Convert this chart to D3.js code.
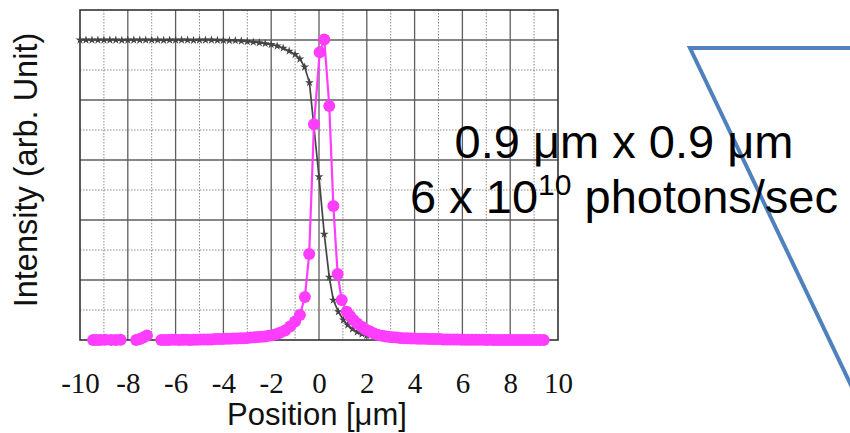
<!DOCTYPE html>
<html>
<head>
<meta charset="utf-8">
<script src="https://cdn.jsdelivr.net/npm/d3@7/dist/d3.min.js"></script>
<style>
  html, body { margin: 0; padding: 0; background: #fff; }
  svg { display: block; }
</style>
</head>
<body>
<svg id="chart" width="850" height="433"></svg>
<script>
// ---------- data ----------
const xTicks = [-10, -8, -6, -4, -2, 0, 2, 4, 6, 8, 10];
const xTickLabels = ["-10", "-8", "-6", "-4", "-2", "0", "2", "4", "6", "8", "10"];

// knife-edge (black) scan
const edgeX = [-10, -9.75, -9.5, -9.25, -9, -8.75, -8.5, -8.25, -8, -7.75, -7.5, -7.25, -7, -6.75, -6.5, -6.25,
  -6, -5.75, -5.5, -5.25, -5, -4.75, -4.5, -4.25, -4, -3.75, -3.5, -3.25, -3, -2.75, -2.5, -2.25, -2, -1.75,
  -1.5, -1.25, -1, -0.8, -0.6, -0.4, 0, 0.22, 0.43, 0.6, 0.81, 1.02, 1.2, 1.4, 1.6, 1.8, 2.0, 2.5, 3, 4, 5, 6, 7, 8, 9, 9.4];
const edgeY = [1.0, 1.0, 1.0, 1.0, 1.0, 1.0, 1.0, 0.999, 1.0, 1.0, 1.0, 1.0, 1.0, 1.0, 0.999, 1.0,
  1.0, 1.0, 1.0, 0.999, 1.0, 1.0, 1.0, 0.999, 0.999, 0.998, 0.998, 0.997, 0.995, 0.993, 0.991, 0.988, 0.985, 0.98,
  0.973, 0.963, 0.952, 0.937, 0.91, 0.858, 0.544, 0.353, 0.209, 0.133, 0.094, 0.067, 0.05, 0.037, 0.027, 0.02, 0.015, 0.01, 0.007, 0.004, 0.003, 0.002, 0.002, 0.001, 0.001, 0.001];

// beam profile (magenta), null = gap in scan
const beamX = [-9.45, -9.3, -9.15, -8.95, -8.7, -8.5, -8.3, null, -7.65, -7.5, -7.35, -7.2, null,
  -6.6, -6.45, -6.3, -6.15, -6.0, -5.85, -5.7, -5.55, -5.4, -5.25, -5.1, -4.95, -4.8, -4.65, -4.5, -4.35, -4.2,
  -4.05, -3.9, -3.75, -3.6, -3.45, -3.3, -3.15, -3.0, -2.85, -2.7, -2.55, -2.4, -2.25, -2.1, -1.95, -1.8, -1.63,
  -1.42, -1.21, -1.0, -0.8, -0.59, -0.41, -0.21, 0.03, 0.22,
  0.43, 0.6, 0.78, 0.95, 1.16, 1.3, 1.44, 1.6, 1.79, 1.95, 2.13, 2.3, 2.48, 2.65, 2.8, 2.95, 3.1, 3.25, 3.4, 3.55,
  3.7, 3.85, 4.0, 4.15, 4.3, 4.45, 4.6, 4.75, 4.9, 5.05, 5.2, 5.35, 5.5, 5.65, 5.8, 5.95, 6.1, 6.25, 6.4, 6.55,
  6.7, 6.85, 7.0, 7.15, 7.3, 7.45, 7.6, 7.75, 7.9, 8.05, 8.2, 8.35, 8.5, 8.65, 8.8, 8.95, 9.1, 9.25, 9.4];
const beamY = [0.0, 0.0, 0.0, 0.001, 0.0, 0.0, 0.001, null, 0.0, 0.003, 0.008, 0.015, null,
  0.0, 0.0, 0.0, 0.001, 0.001, 0.0, 0.001, 0.001, 0.0, 0.001, 0.001, 0.002, 0.002, 0.002, 0.002, 0.003, 0.003,
  0.003, 0.004, 0.004, 0.005, 0.005, 0.006, 0.006, 0.007, 0.008, 0.009, 0.01, 0.011, 0.012, 0.014, 0.016, 0.019, 0.024,
  0.032, 0.045, 0.062, 0.083, 0.143, 0.287, 0.719, 0.959, 1.002,
  0.78, 0.447, 0.22, 0.133, 0.094, 0.08, 0.067, 0.055, 0.044, 0.035, 0.028, 0.022, 0.017, 0.014, 0.012, 0.01, 0.009, 0.008, 0.007, 0.006,
  0.006, 0.005, 0.005, 0.004, 0.004, 0.004, 0.003, 0.003, 0.003, 0.003, 0.002, 0.002, 0.002, 0.002, 0.002, 0.001, 0.001, 0.001, 0.001, 0.001,
  0.001, 0.001, 0.0, 0.001, 0.0, 0.0, 0.0, 0.0, 0.0, 0.0, 0.0, 0.0, 0.0, 0.0, 0.0, 0.0, 0.0, 0.0, 0.0];

const gridXValues = [-9, -8, -7, -6, -5, -4, -3, -2, -1, 0, 1, 2, 3, 4, 5, 6, 7, 8, 9];
const gridYValues = [0.1, 0.2, 0.3, 0.4, 0.5, 0.6, 0.7, 0.8, 0.9, 1.0];
const majorYValues = [0.2, 0.4, 0.6, 0.8, 1.0];

// ---------- layout ----------
const svg = d3.select("#chart");
const plot = { left: 80, right: 558, top: 10, bottom: 340 };
const x = d3.scaleLinear().domain([-10, 10]).range([plot.left, plot.right]);
const y = d3.scaleLinear().domain([0, 1.1]).range([plot.bottom, plot.top]);

svg.append("rect").attr("width", 850).attr("height", 433).attr("fill", "#fff");

const isMajorY = d => majorYValues.some(m => Math.abs(m - d) < 1e-9);

// grid
const grid = svg.append("g");
grid.selectAll("line.gx").data(gridXValues).enter().append("line")
  .attr("x1", d => x(d)).attr("x2", d => x(d))
  .attr("y1", plot.top).attr("y2", plot.bottom)
  .attr("stroke", d => (d % 2 === 0) ? "#5e5e5e" : "#8a8a8a")
  .attr("stroke-width", d => (d % 2 === 0) ? 1.3 : 1)
  .attr("stroke-dasharray", d => (d % 2 === 0) ? null : "1.5,1.5");
grid.selectAll("line.gy").data(gridYValues).enter().append("line")
  .attr("x1", plot.left).attr("x2", plot.right)
  .attr("y1", d => y(d)).attr("y2", d => y(d))
  .attr("stroke", d => isMajorY(d) ? "#5e5e5e" : "#8a8a8a")
  .attr("stroke-width", d => isMajorY(d) ? 1.3 : 1)
  .attr("stroke-dasharray", d => isMajorY(d) ? null : "1.5,1.5");

// frame
svg.append("rect")
  .attr("x", plot.left).attr("y", plot.top)
  .attr("width", plot.right - plot.left).attr("height", plot.bottom - plot.top)
  .attr("fill", "none").attr("stroke", "#333").attr("stroke-width", 1.6);

// x axis labels
const xAxis = d3.axisBottom(x).tickValues(xTicks)
  .tickFormat((d, i) => xTickLabels[i]).tickSize(0).tickPadding(0);
const gx = svg.append("g").attr("transform", `translate(0,${plot.bottom})`).call(xAxis);
gx.select(".domain").remove();
gx.attr("font-size", null).attr("font-family", null);
gx.selectAll("text")
  .attr("y", 53).attr("dy", null)
  .style("font-family", "'Liberation Serif', 'Times New Roman', serif")
  .style("font-size", "29px").attr("fill", "#111");

// black edge scan
const edgeData = edgeX.map((v, i) => ({ x: v, y: edgeY[i] }));
svg.append("path").datum(edgeData)
  .attr("fill", "none").attr("stroke", "#444").attr("stroke-width", 1.7)
  .attr("d", d3.line().x(d => x(d.x)).y(d => y(d.y)));
svg.selectAll("path.em").data(edgeData).enter().append("path")
  .attr("transform", d => `translate(${x(d.x)},${y(d.y)})`)
  .attr("d", d3.symbol().type(d3.symbolStar).size(24))
  .attr("fill", "#444");

// magenta beam profile
const beamData = beamX.map((v, i) => ({ x: v, y: beamY[i] }));
const pink = "#ff3dff";
svg.append("path").datum(beamData)
  .attr("fill", "none").attr("stroke", pink).attr("stroke-width", 2.2)
  .attr("d", d3.line().defined(d => d.x !== null && d.y !== null).x(d => x(d.x)).y(d => y(d.y)));
svg.selectAll("circle.bm").data(beamData.filter(d => d.x !== null)).enter().append("circle")
  .attr("cx", d => x(d.x)).attr("cy", d => y(d.y)).attr("r", 6)
  .attr("fill", pink);

// axis titles
svg.append("text")
  .attr("transform", "translate(37,170) rotate(-90)")
  .attr("text-anchor", "middle")
  .attr("font-family", "'Liberation Sans', Arial, sans-serif")
  .attr("font-size", 32.5).attr("fill", "#111")
  .text("Intensity (arb. Unit)");
svg.append("text")
  .attr("x", 317).attr("y", 425)
  .attr("text-anchor", "middle")
  .attr("font-family", "'Liberation Sans', Arial, sans-serif")
  .attr("font-size", 31).attr("fill", "#111")
  .text("Position [μm]");

// decorative blue lines (zoom callout)
svg.append("path")
  .attr("d", "M850,48 L690,48 L860,404")
  .attr("fill", "none").attr("stroke", "#4f81bd").attr("stroke-width", 4)
  .attr("stroke-linejoin", "miter");

// annotation
const ann = svg.append("text")
  .attr("text-anchor", "middle")
  .attr("font-family", "'Liberation Sans', Arial, sans-serif")
  .attr("font-size", 47).attr("fill", "#000");
ann.append("tspan").attr("x", 624).attr("y", 158).text("0.9 μm x 0.9 μm");
const l2 = ann.append("tspan").attr("x", 624).attr("y", 213);
l2.append("tspan").text("6 x 10");
l2.append("tspan").attr("font-size", 30).attr("dy", -18).text("10");
l2.append("tspan").attr("dy", 18).text(" photons/sec");
</script>
</body>
</html>
